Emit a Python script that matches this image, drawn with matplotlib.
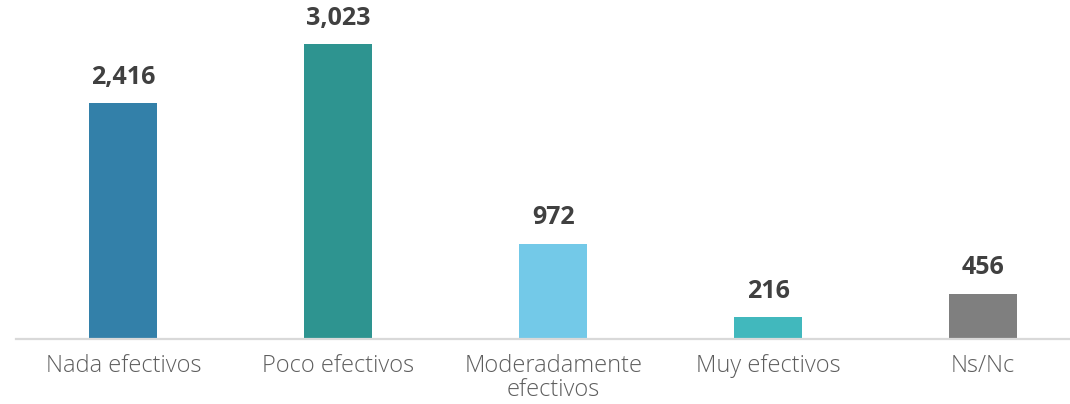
import matplotlib.pyplot as plt
import numpy as np

categories = ["Nada efectivos", "Poco efectivos", "Moderadamente\nefectivos", "Muy efectivos", "Ns/Nc"]
values = [2416, 3023, 972, 216, 456]
colors = ["#3380A9", "#2E9490", "#73C9E8", "#41B8BD", "#7F7F7F"]

fig = plt.figure(figsize=(10.7, 4.04), dpi=100)
ax = fig.add_axes([16 / 1070, 65.5 / 404, 1055 / 1070, 321 / 404])

x = np.arange(len(categories))
ax.bar(x, values, width=0.316, color=colors, zorder=2)

for xi, v in zip(x, values):
    ax.annotate(f"{v:,}", (xi, v), xytext=(0, 10), textcoords="offset points",
                ha="center", va="bottom", fontsize=18, fontweight="bold",
                color="#404040", family="Open Sans")

ax.set_xlim(-0.5, 4.41)
ax.set_ylim(0, 3300)
ax.set_yticks([])
ax.set_xticks(x)
ax.set_xticklabels(categories, fontsize=17, color="#5E5E5E", family="Open Sans",
                   fontweight="light", linespacing=1.0)
ax.tick_params(axis="x", length=0, pad=11)
for side in ["top", "left", "right"]:
    ax.spines[side].set_visible(False)
ax.spines["bottom"].set_color("#D9D9D9")
ax.spines["bottom"].set_linewidth(1.6)

fig.savefig("out.png", dpi=100)
